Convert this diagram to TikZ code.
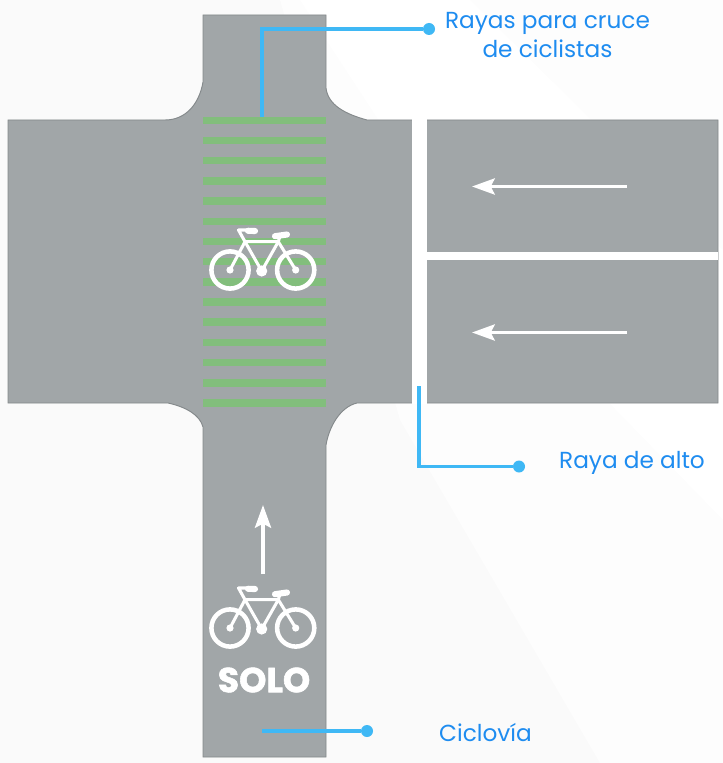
\documentclass[tikz,border=0pt]{standalone}
\usepackage{fontspec}
\setmainfont{Poppins}
\newfontfamily\solofont[FakeBold=1.6]{Poppins Bold}
\usetikzlibrary{arrows.meta}
\definecolor{paper}{HTML}{FAFAFA}
\definecolor{band}{HTML}{FDFDFD}
\definecolor{road}{HTML}{A1A6A8}
\definecolor{roadedge}{HTML}{84898B}
\definecolor{stripe}{HTML}{82BE7C}
\definecolor{leader}{HTML}{3FB8F5}
\definecolor{labelblue}{HTML}{1E8CF0}
\tikzset{
  x=0.75pt,y=-0.75pt,
  roadshape/.style={fill=road,draw=roadedge,line width=0.7pt},
  crossstripe/.style={fill=stripe,draw=none},
  paint/.style={fill=white,draw=none},
  flowarrow/.style={draw=white,line width=2.9pt,-{Stealth[length=17pt,width=12pt,inset=3pt]}},
  leaderline/.style={draw=leader,line width=2.4pt},
  leaderdot/.style={circle,fill=leader,draw=none,inner sep=0pt,minimum size=9pt},
  calllabel/.style={text=labelblue,font=\fontsize{17.4pt}{22pt}\selectfont,align=center,inner sep=0pt},
  solotext/.style={text=white,font=\fontsize{26pt}{26pt}\solofont,inner sep=0pt},
  bikeline/.style={draw=white,line width=2.3pt,line cap=round,line join=round},
  bikebar/.style={draw=white,line width=4.6pt,line cap=round},
  bike/.pic={
    \draw[bikeline,line width=3.4pt] (230,270) circle (18.6);
    \draw[bikeline,line width=3.4pt] (295.7,270) circle (18.6);
    \fill[white] (230,270) circle (3.6) (295.7,270) circle (3.6) (261.7,271) circle (5.6);
    \draw[bikeline] (230,270) -- (245,241.7) -- (278.3,241.7) -- (295.7,270);
    \draw[bikeline] (245,241.7) -- (261.7,271) -- (278.3,241.7);
    \draw[bikeline] (245,241.7) -- (238.5,230) -- (252,230);
    \draw[bikeline] (278.3,241.7) -- (280,236);
    \draw[bikebar] (248,230.8) -- (255,231);
    \draw[bikebar] (275,236.2) -- (287,234.5);
  }
}
\begin{document}
\begin{tikzpicture}
\useasboundingbox (0,0) rectangle (723,763);
\fill[paper] (0,0) rectangle (723,763);
\fill[band] (280,0) -- (723,0) -- (723,763) -- (600,763) -- (400,420) -- cycle;
\fill[white] (300,0) -- (470,0) -- (723,250) -- (723,520) -- (470,260) -- cycle;
% road
\path[roadshape] (203,15) -- (326,15) -- (326,88) .. controls (328,105) and (345,114) .. (367,120)
  -- (718,120) -- (718,403) -- (357,403) .. controls (340,407) and (329,427) .. (326,445)
  -- (326,757) -- (203,757) -- (203,427) .. controls (200,415) and (186,407) .. (168,403)
  -- (8,403) -- (8,120) -- (165,120) .. controls (185,120) and (199,105) .. (203,82) -- cycle;
% stripes
\foreach \yy in {120.5,140.5,160.5,181,201,221.5,241.5,261.5,282,302,322,342.5,362.5,383,403}
  \fill[crossstripe] (203,\yy-3.7) rectangle (326,\yy+3.7);
% stop line and lane line
\fill[paint] (412,119) rectangle (427,404);
\fill[paint] (427,252.3) rectangle (717.5,260);
% bikes
\pic at (0,0) {bike};
\pic at (0,358) {bike};
% arrows
\coordinate (a1s) at (627,186.5); \coordinate (a1e) at (472,186.5);
\coordinate (a2s) at (627,332.5); \coordinate (a2e) at (472,332.5);
\coordinate (a3s) at (263,574); \coordinate (a3e) at (263,505);
\draw[flowarrow] (a1s) -- (a1e);
\draw[flowarrow] (a2s) -- (a2e);
\draw[flowarrow] (a3s) -- (a3e);
\node[solotext] (solo) at (264,680) {SOLO};
% leaders
\coordinate (rayasEnd) at (262,117);
\coordinate (altoEnd) at (419,386);
\coordinate (cicloEnd) at (262,731);
\node[leaderdot] (rayasDot) at (429,29) {};
\node[leaderdot] (altoDot) at (519,466.5) {};
\node[leaderdot] (cicloDot) at (367,731) {};
\draw[leaderline] (rayasEnd) |- (rayasDot);
\draw[leaderline] (altoEnd) |- (altoDot);
\draw[leaderline] (cicloEnd) -- (cicloDot);
\node[calllabel] (rayasLabel) at (547.5,35) {Rayas para cruce\\de ciclistas};
\node[calllabel] (altoLabel) at (632,463) {Raya de alto};
\node[calllabel] (cicloLabel) at (485.5,733) {Ciclovía};
\end{tikzpicture}
\end{document}
